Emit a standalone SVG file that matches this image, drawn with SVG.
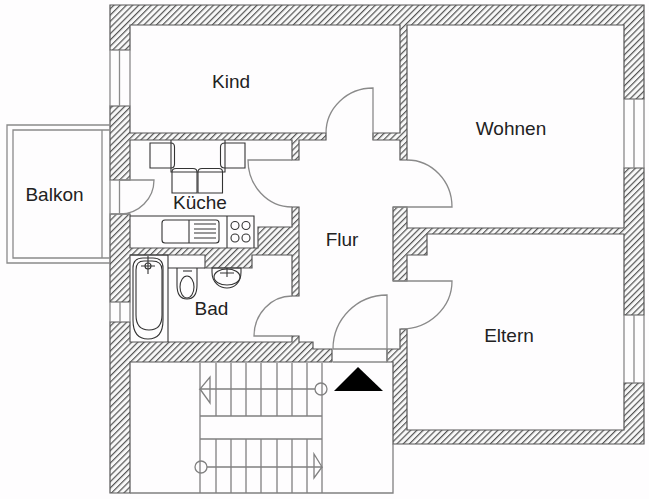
<svg xmlns="http://www.w3.org/2000/svg" width="649" height="499" viewBox="0 0 649 499">
<style>
.w{fill:url(#h);stroke:#555;stroke-width:1.2}
.g{fill:none;stroke:#8a8a8a;stroke-width:1.3}
.d{fill:none;stroke:#333;stroke-width:1.1}
.s{fill:none;stroke:#808080;stroke-width:1.3}
text{font-family:"Liberation Sans",Arial,sans-serif;font-size:19px;fill:#222;text-anchor:middle}
</style>
<defs>
<pattern id="h" width="4.4" height="4.4" patternUnits="userSpaceOnUse" patternTransform="rotate(45)">
<rect width="4.4" height="4.4" fill="#f8f8f8"/>
<rect x="0" width="1.2" height="4.4" fill="#555"/>
</pattern>
</defs>
<rect width="649" height="499" fill="#fefdfe"/>
<g id="walls">
<path class="w" d="M110 50V5H644V99H624V25H407V160H400V140H373V133H400V25H130V50Z"/>
<path class="w" d="M110 106H130V133H326V140H299V160H292V140H130V180H110Z"/>
<path class="w" d="M110 214H130V248H258V227H292V207H299V296H292V255H252V268H205V255H130V302H110Z"/>
<path class="w" d="M110 322H130V342H292V336H299V342H313V349H332V362H130V493H110Z"/>
<path class="w" d="M393 207H407V228H624V168H644V315H624V234H427V255H407V281H393Z"/>
<path class="w" d="M400 329H407V430H624V383H644V444H393V362H387V349H400Z"/>
</g>
<g id="windows">
<path class="g" d="M110 50V106M119.500 50V106M130 50V106"/>
<path class="g" d="M110 302V322M120 302V322M130 302V322"/>
<path class="g" d="M624 99V168M634 99V168M644 99V168"/>
<path class="g" d="M624 315V383M634 315V383M644 315V383"/>
<path class="g" d="M110 180V214M119.500 180V214M110 214H130"/>
</g>
<g id="balcony">
<path class="g" stroke-width="2" d="M110 125H7V263H110"/>
<path class="g" stroke-width="2" d="M110 130H13V258H110"/>
<path class="g" d="M102 130V258"/>
</g>
<g id="doors">
<path class="g" d="M120 180H154A34 34 0 0 1 120 214"/>
<path class="g" d="M292 160H248A44 47 0 0 0 292 207"/>
<path class="g" d="M326 133A47 45 0 0 1 373 88V140"/>
<path class="g" d="M407 160A45 47 0 0 1 452 207H393"/>
<path class="g" d="M393 281H452A51 48 0 0 1 401 329"/>
<path class="g" d="M292 296A38 40 0 0 0 254 336H292"/>
<path class="g" d="M333 349A54 54 0 0 1 387 295V362M333 349H387M333 362H387"/>
</g>
<g id="kitchen">
<path class="d" d="M130 216H254V248"/>
<path class="d" d="M227 216V248"/>
<rect class="d" x="162" y="220" width="57" height="23" rx="3"/>
<path class="d" d="M189 220V243M194 224H216M194 229H216M194 233H216M194 238H216"/>
<circle class="d" cx="235" cy="225.500" r="4"/><circle class="d" cx="246" cy="225.500" r="4"/>
<circle class="d" cx="235" cy="238" r="4"/><circle class="d" cx="246" cy="238" r="4"/>
</g>
<g id="table">
<path class="d" d="M171 140V172H225V140"/>
<path class="d" d="M171 143H150V168H171M171 143Q174.500 143 174.500 147V164Q174.500 168 171 168"/>
<path class="d" d="M225 143H245V168H225M225 143Q220.500 143 220.500 147V164Q220.500 168 225 168"/>
<path class="d" d="M172 172V193H197V172Q197 168.500 193 168.500H176Q172 168.500 172 172Z"/>
<path class="d" d="M198 172V193H222.500V172Q222.500 168.500 219 168.500H202Q198 168.500 198 172Z"/>
</g>
<g id="bath">
<path class="d" d="M130 255H168V342"/>
<path class="d" d="M168 268H205"/>
<path class="d" d="M133 268Q133 258 143 258H153Q163 258 163 268V320Q163 339 148 339Q133 339 133 320Z"/>
<path class="d" d="M136 270Q136 261 144 261H152Q162 261 162 270V315Q162 330 149 330Q136 330 136 315Z"/>
<circle class="d" cx="148" cy="266" r="3"/>
<path class="d" d="M141 266H155M148 256V274"/>
<path class="d" d="M177 268V285C177 296 182 299 187 299C192 299 197 296 197 285V268"/>
<ellipse class="d" cx="187" cy="287" rx="7" ry="11"/>
<path class="d" d="M183 271H192"/>
<path class="d" d="M212 272C212 283 220 288 227 288C234 288 241 283 241 272V268H212Z"/>
<ellipse class="d" cx="227" cy="277" rx="13" ry="8"/>
<path class="d" d="M220 273H234M227 268V277"/>
</g>
<g id="stairs">
<path class="s" d="M130 493H393V444"/>
<path class="s" d="M200 363V493M216 363V416M231 363V416M246 363V416M261 363V416M277 363V416M292 363V416M307 363V416M322 363V493"/>
<path class="s" d="M216 439V493M231 439V493M246 439V493M261 439V493M277 439V493M292 439V493M307 439V493"/>
<path class="s" d="M200 416H322M200 439H322"/>
<path class="s" d="M315 389H200L210 377V403L200 389"/>
<circle class="s" cx="321" cy="389" r="6"/>
<path class="s" d="M207 467H322L314 454V478L322 467"/>
<circle class="s" cx="201" cy="467" r="6"/>
<polygon points="358,367 334,391 383,391" fill="#000"/>
</g>
<g id="labels">
<text x="231" y="88">Kind</text>
<text x="511" y="135">Wohnen</text>
<text x="54.500" y="201">Balkon</text>
<text x="200" y="209">Küche</text>
<text x="342" y="246">Flur</text>
<text x="211.500" y="315">Bad</text>
<text x="509" y="342">Eltern</text>
</g>
</svg>
